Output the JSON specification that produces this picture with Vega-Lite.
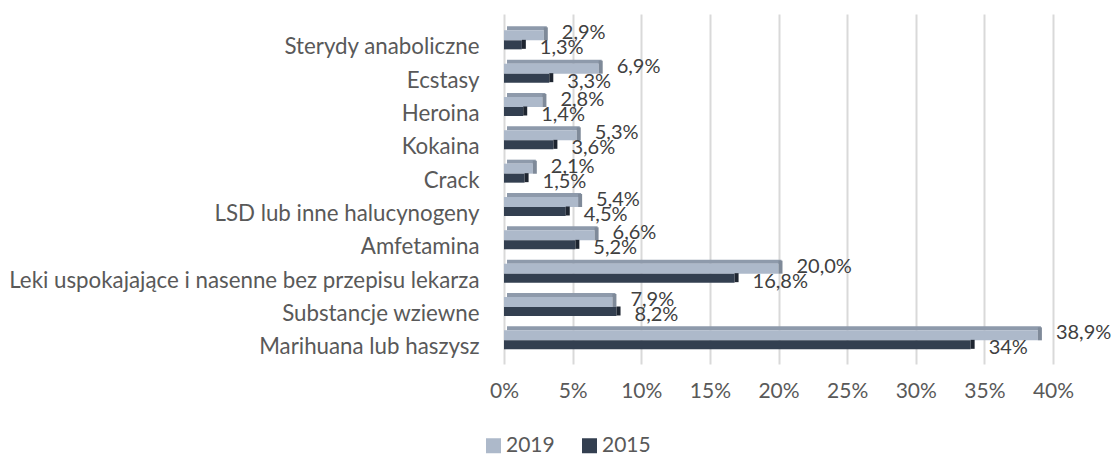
{
  "$schema": "https://vega.github.io/schema/vega-lite/v6.json",
  "width": 549,
  "height": 350,
  "autosize": {"type": "none"},
  "padding": {"left": 504, "top": 14, "right": 59, "bottom": 93},
  "background": "white",
  "config": {"view": {"stroke": null}},
  "data": {"values": [
    {"cat": "Sterydy anaboliczne", "year": "2019", "value": 2.9, "label": "2,9%"},
    {"cat": "Sterydy anaboliczne", "year": "2015", "value": 1.3, "label": "1,3%"},
    {"cat": "Ecstasy", "year": "2019", "value": 6.9, "label": "6,9%"},
    {"cat": "Ecstasy", "year": "2015", "value": 3.3, "label": "3,3%"},
    {"cat": "Heroina", "year": "2019", "value": 2.8, "label": "2,8%"},
    {"cat": "Heroina", "year": "2015", "value": 1.4, "label": "1,4%"},
    {"cat": "Kokaina", "year": "2019", "value": 5.3, "label": "5,3%"},
    {"cat": "Kokaina", "year": "2015", "value": 3.6, "label": "3,6%"},
    {"cat": "Crack", "year": "2019", "value": 2.1, "label": "2,1%"},
    {"cat": "Crack", "year": "2015", "value": 1.5, "label": "1,5%"},
    {"cat": "LSD lub inne halucynogeny", "year": "2019", "value": 5.4, "label": "5,4%"},
    {"cat": "LSD lub inne halucynogeny", "year": "2015", "value": 4.5, "label": "4,5%"},
    {"cat": "Amfetamina", "year": "2019", "value": 6.6, "label": "6,6%"},
    {"cat": "Amfetamina", "year": "2015", "value": 5.2, "label": "5,2%"},
    {"cat": "Leki uspokajające i nasenne bez przepisu lekarza", "year": "2019", "value": 20.0, "label": "20,0%"},
    {"cat": "Leki uspokajające i nasenne bez przepisu lekarza", "year": "2015", "value": 16.8, "label": "16,8%"},
    {"cat": "Substancje wziewne", "year": "2019", "value": 7.9, "label": "7,9%"},
    {"cat": "Substancje wziewne", "year": "2015", "value": 8.2, "label": "8,2%"},
    {"cat": "Marihuana lub haszysz", "year": "2019", "value": 38.9, "label": "38,9%"},
    {"cat": "Marihuana lub haszysz", "year": "2015", "value": 34, "label": "34%"}
  ]},
  "encoding": {
    "y": {
      "field": "cat", "type": "nominal",
      "sort": ["Sterydy anaboliczne", "Ecstasy", "Heroina", "Kokaina", "Crack", "LSD lub inne halucynogeny", "Amfetamina", "Leki uspokajające i nasenne bez przepisu lekarza", "Substancje wziewne", "Marihuana lub haszysz"],
      "scale": {"paddingInner": 0, "paddingOuter": 0.25, "align": 1},
      "axis": {"title": null, "domain": false, "ticks": false, "labelPadding": 25, "labelLimit": 0, "labelFont": "Lato", "labelFontSize": 22.3, "labelColor": "#595959"}
    },
    "x": {
      "field": "value", "type": "quantitative",
      "scale": {"domain": [0, 40], "nice": false},
      "axis": {"title": null, "domain": false, "ticks": false, "values": [0, 5, 10, 15, 20, 25, 30, 35, 40], "labelExpr": "datum.value + '%'", "labelFlush": false, "labelOverlap": false, "labelPadding": 16, "labelFont": "Lato", "labelFontSize": 21, "labelColor": "#595959", "grid": true, "gridColor": "#D9D9D9", "gridWidth": 2}
    }
  },
  "layer": [
    {
      "transform": [{"filter": "datum.year == '2019'"}],
      "mark": {"type": "bar", "height": 4, "yOffset": -19, "xOffset": 3, "color": "#8E9AAB"}
    },
    {
      "transform": [{"filter": "datum.year == '2019'"}],
      "mark": {"type": "bar", "height": 10, "yOffset": -12},
      "encoding": {"color": {"field": "year", "type": "nominal", "scale": {"domain": ["2019", "2015"], "range": ["#ADB9CA", "#333F50"]},
        "legend": {"orient": "none", "legendX": -21, "legendY": 421, "direction": "horizontal", "title": null, "symbolType": "square", "symbolSize": 225, "symbolStrokeWidth": 0, "labelFont": "Lato", "labelFontSize": 21, "labelColor": "#595959", "labelOffset": 2, "columnPadding": 24, "padding": 0}}}
    },
    {
      "transform": [{"filter": "datum.year == '2019'"}],
      "mark": {"type": "tick", "size": 13, "thickness": 4, "xOffset": 2, "yOffset": -13.5, "color": "#7F8A99", "opacity": 1}
    },
    {
      "transform": [{"filter": "datum.year == '2015'"}],
      "mark": {"type": "bar", "height": 9, "yOffset": -2.5},
      "encoding": {"color": {"field": "year", "type": "nominal", "scale": {"domain": ["2019", "2015"], "range": ["#ADB9CA", "#333F50"]}}}
    },
    {
      "transform": [{"filter": "datum.year == '2015'"}],
      "mark": {"type": "tick", "size": 9, "thickness": 4, "xOffset": 2, "yOffset": -3, "color": "#1E2530", "opacity": 1}
    },
    {
      "transform": [{"filter": "datum.year == '2019'"}],
      "mark": {"type": "text", "align": "left", "baseline": "middle", "dx": 18, "dy": -14, "font": "Lato", "fontSize": 20, "color": "#404040"},
      "encoding": {"text": {"field": "label"}}
    },
    {
      "transform": [{"filter": "datum.year == '2015'"}],
      "mark": {"type": "text", "align": "left", "baseline": "middle", "dx": 18, "dy": 1, "font": "Lato", "fontSize": 20, "color": "#404040"},
      "encoding": {"text": {"field": "label"}}
    }
  ]
}
